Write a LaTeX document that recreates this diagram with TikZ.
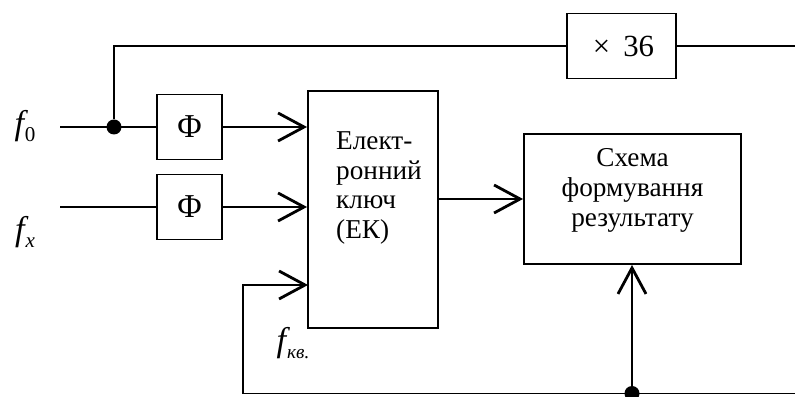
\documentclass[tikz,border=0pt]{standalone}
\usepackage{fontspec}
\setmainfont{Liberation Serif}
\usetikzlibrary{arrows.meta}

% signal name: italic letter with a lowered index
\newcommand{\fsig}[2]{{\fontsize{19.5}{22}\selectfont\itshape #1}\kern0.5pt\raisebox{-4pt}{\fontsize{12}{14}\selectfont #2}}

\tikzset{
  blk/.style={draw, line width=1.1pt, inner sep=0pt},
  sig/.style={line width=1.1pt},
  into/.style={line width=1.6pt, -{Straight Barb[length=5.2mm,width=5.6mm]}},
  junc/.style={circle, fill, inner sep=0pt, minimum size=3mm},
}

\begin{document}
\begin{tikzpicture}[font=\fontsize{15.5}{17}\selectfont]

    \useasboundingbox (0,0) rectangle (15.9,7.94);

    % Place the blocks
    \node[blk, minimum width=1.3cm, minimum height=1.3cm] (phi0) at (3.79,5.40) {\fontsize{19}{20}\selectfont Φ};
    \node[blk, minimum width=1.3cm, minimum height=1.3cm] (phix) at (3.79,3.80) {\fontsize{19}{20}\selectfont Φ};
    \node[blk, minimum width=2.18cm, minimum height=1.3cm] (mult) at (12.43,7.02) {\fontsize{17.5}{20}\selectfont\hspace{0.8mm}×\hspace{2.6mm}36};
    \node[blk, minimum width=2.6cm, minimum height=4.74cm] (ek) at (7.46,3.75) {};
    \node[align=left] (ektext) at (7.58,4.18) {Елект-\\ронний\\ключ\\(ЕК)};
    \node[blk, minimum width=4.34cm, minimum height=2.6cm, align=center] (res) at (12.65,3.96) {Схема\\формування\\результату\\[-4pt]};

    % Place the signal names
    \node (f0) at (0.50,5.42) {\fsig{f}{0}};
    \node (fx) at (0.50,3.30) {\fsig{f}{\itshape x}};
    \node (fkv) at (5.86,1.08) {\fsig{f}{\fontsize{11}{12}\selectfont\itshape кв.}};

    % Junctions and free ends
    \node[junc] (j0) at (2.28,5.40) {};
    \node[junc] (j1) at (12.64,0.07) {};
    \coordinate (in0) at (1.2,5.40);
    \coordinate (inx) at (1.2,3.80);
    \coordinate (fb) at (4.86,0.07);
    \coordinate (fbin) at (6.16,2.24);
    \coordinate (outtop) at (15.9,7.02);
    \coordinate (outbot) at (15.9,0.07);

    % Draw the lines
    \draw[sig] (in0) -- (phi0);
    \draw[sig] (inx) -- (phix);
    \draw[sig] (j0) |- (mult);
    \draw[sig] (mult) -- (outtop);
    \draw[into] (phi0) -- (phi0 -| ek.west);
    \draw[into] (phix) -- (phix -| ek.west);
    \draw[into] (ek.east |- res) -- (res.west);
    \draw[sig, -{Straight Barb[length=5.2mm,width=5.6mm,line width=1.6pt]}] (outbot) -- (fb) |- (fbin);
    \draw[into] (j1) -- (j1 |- res.south);

\end{tikzpicture}
\end{document}
